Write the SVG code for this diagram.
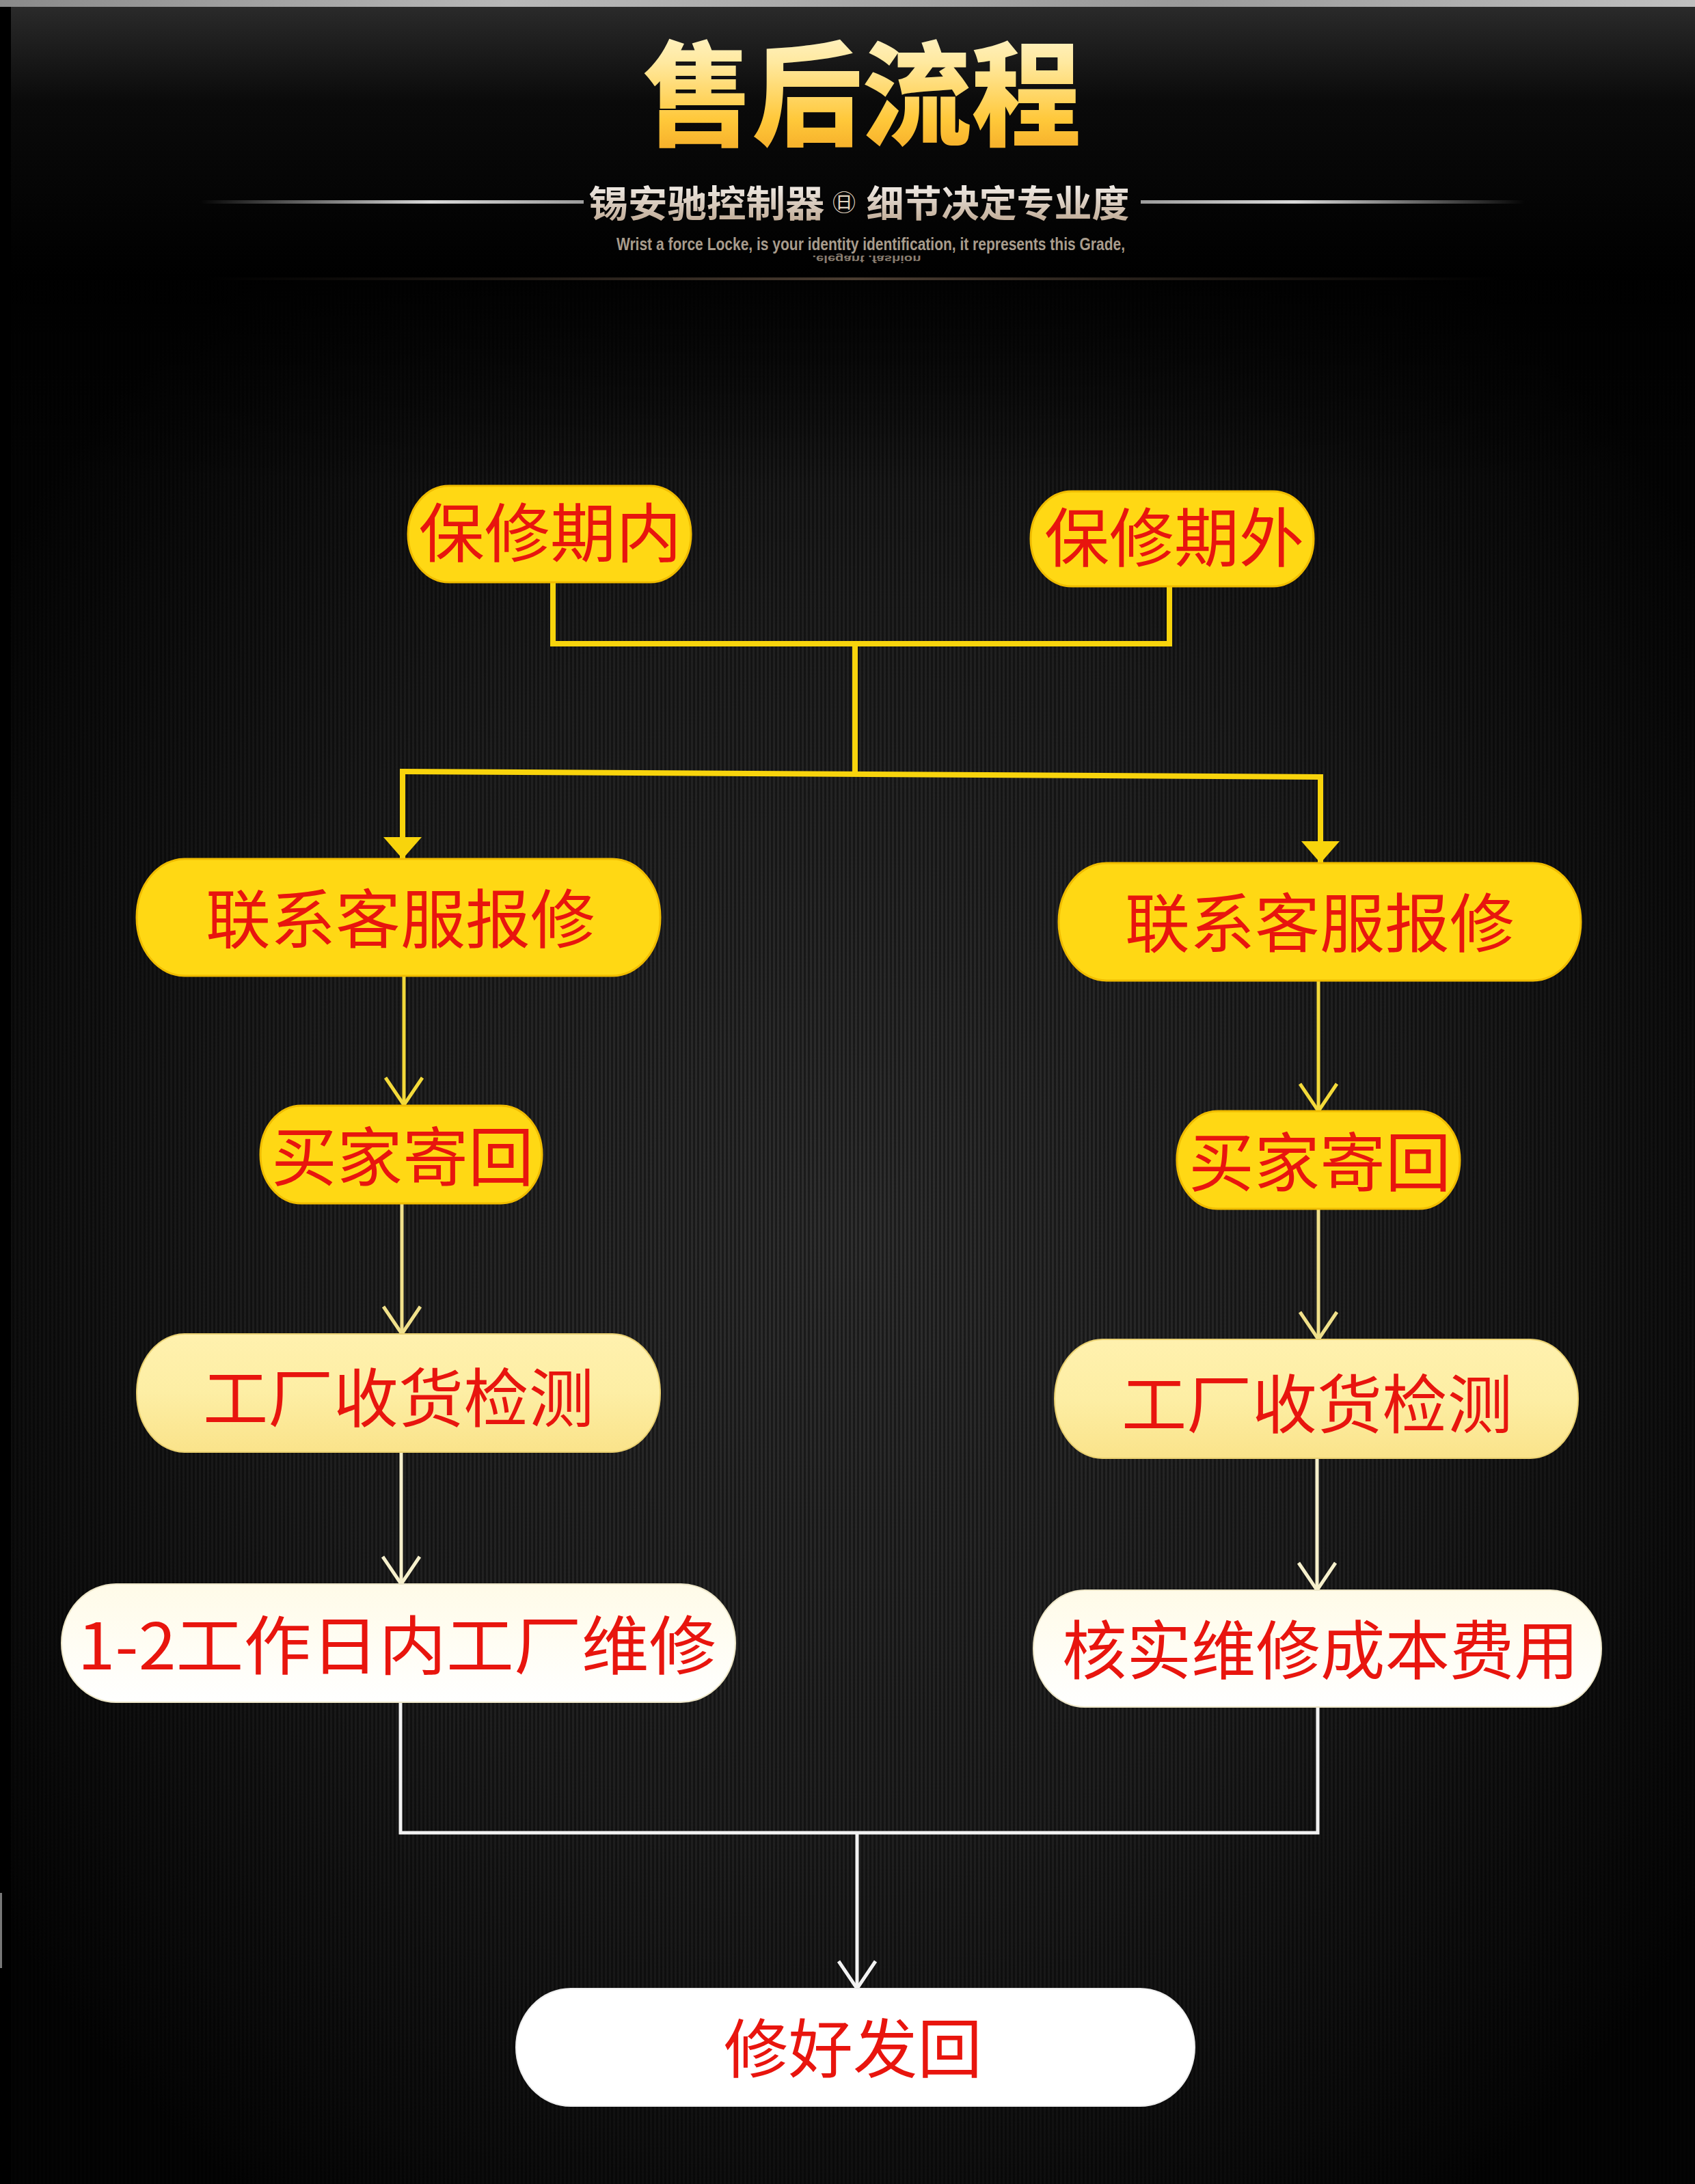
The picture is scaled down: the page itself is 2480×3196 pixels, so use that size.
<svg xmlns="http://www.w3.org/2000/svg" width="2480" height="3196" viewBox="0 0 2480 3196">
<defs>
<style>
.lbl{font-family:"Noto Sans CJK SC","Noto Sans",sans-serif;fill:#E8150E;dominant-baseline:central;text-anchor:middle}
.ny{fill:#FFD814;stroke:#F0BC00;stroke-width:3}
.np{fill:url(#paleY);stroke:#E8CF70;stroke-width:2}
.nc{fill:url(#cream);stroke:#EDE6C8;stroke-width:2}
.nw{fill:#FFFFFF;stroke:#EEEEEE;stroke-width:2}
.thick{fill:none;stroke:#F8D40C;stroke-width:8;stroke-linejoin:miter}
.ln{fill:none;stroke-width:5}
</style>
<linearGradient id="topStrip" x1="0" y1="0" x2="1" y2="0">
<stop offset="0" stop-color="#8a8a8a"/><stop offset="0.3" stop-color="#b8b8b8"/><stop offset="0.7" stop-color="#9a9a9a"/><stop offset="1" stop-color="#c0c0c0"/>
</linearGradient>
<linearGradient id="headBg" x1="0" y1="0" x2="0" y2="1">
<stop offset="0" stop-color="#2a2a2a"/><stop offset="0.35" stop-color="#0a0a0a"/><stop offset="1" stop-color="#000"/>
</linearGradient>
<radialGradient id="mainBg" cx="0.5" cy="0.5" r="0.62">
<stop offset="0" stop-color="#2f2f2f"/><stop offset="0.55" stop-color="#1e1e1e"/><stop offset="1" stop-color="#040404"/>
</radialGradient>
<linearGradient id="mainTop" x1="0" y1="0" x2="0" y2="1">
<stop offset="0" stop-color="#000" stop-opacity="0.85"/><stop offset="1" stop-color="#000" stop-opacity="0"/>
</linearGradient>
<pattern id="stripes" width="6" height="20" patternUnits="userSpaceOnUse">
<rect x="0" y="0" width="3" height="20" fill="#000" fill-opacity="0.4"/>
</pattern>
<linearGradient id="gold" x1="0" y1="0" x2="0" y2="1">
<stop offset="0" stop-color="#FFFBE6"/><stop offset="0.35" stop-color="#FFE9A0"/><stop offset="0.7" stop-color="#FFC83A"/><stop offset="1" stop-color="#F0A020"/>
</linearGradient>
<linearGradient id="silver" x1="0" y1="0" x2="0" y2="1">
<stop offset="0" stop-color="#FFFFFF"/><stop offset="1" stop-color="#B8A088"/>
</linearGradient>
<linearGradient id="lineL" x1="0" y1="0" x2="1" y2="0">
<stop offset="0" stop-color="#fff" stop-opacity="0"/><stop offset="0.6" stop-color="#fff" stop-opacity="0.85"/><stop offset="1" stop-color="#ddd" stop-opacity="0.7"/>
</linearGradient>
<linearGradient id="lineR" x1="0" y1="0" x2="1" y2="0">
<stop offset="0" stop-color="#ddd" stop-opacity="0.7"/><stop offset="0.4" stop-color="#fff" stop-opacity="0.85"/><stop offset="1" stop-color="#fff" stop-opacity="0"/>
</linearGradient>
<linearGradient id="sep" x1="0" y1="0" x2="1" y2="0">
<stop offset="0" stop-color="#3a3028" stop-opacity="0"/><stop offset="0.5" stop-color="#4a3c30"/><stop offset="1" stop-color="#3a3028" stop-opacity="0"/>
</linearGradient>
<linearGradient id="paleY" x1="0" y1="0" x2="0" y2="1">
<stop offset="0" stop-color="#FFF1AE"/><stop offset="0.5" stop-color="#FDEEA4"/><stop offset="1" stop-color="#FAE38A"/>
</linearGradient>
<linearGradient id="cream" x1="0" y1="0" x2="0" y2="1">
<stop offset="0" stop-color="#FFFBE8"/><stop offset="1" stop-color="#FFFFFF"/>
</linearGradient>
<marker id="vY" viewBox="-46 -32 52 64" refX="0" refY="0" markerWidth="52" markerHeight="64" markerUnits="userSpaceOnUse" orient="auto"><path d="M-40,-27 L0,0 L-40,27" fill="none" stroke="#F3DA3A" stroke-width="5"/></marker>
<marker id="vP" viewBox="-46 -32 52 64" refX="0" refY="0" markerWidth="52" markerHeight="64" markerUnits="userSpaceOnUse" orient="auto"><path d="M-40,-27 L0,0 L-40,27" fill="none" stroke="#F0E08A" stroke-width="5"/></marker>
<marker id="vC" viewBox="-46 -32 52 64" refX="0" refY="0" markerWidth="52" markerHeight="64" markerUnits="userSpaceOnUse" orient="auto"><path d="M-40,-27 L0,0 L-40,27" fill="none" stroke="#F6F0CC" stroke-width="5"/></marker>
<marker id="vW" viewBox="-46 -32 52 64" refX="0" refY="0" markerWidth="52" markerHeight="64" markerUnits="userSpaceOnUse" orient="auto"><path d="M-40,-27 L0,0 L-40,27" fill="none" stroke="#F2F2F2" stroke-width="5"/></marker>
<marker id="tri" viewBox="-36 -30 40 60" refX="0" refY="0" markerWidth="40" markerHeight="60" markerUnits="userSpaceOnUse" orient="auto"><path d="M-32,-28 L0,0 L-32,28 Z" fill="#F8D40C"/></marker>
</defs>

<!-- background -->
<rect x="0" y="0" width="2480" height="3196" fill="#000"/>
<rect x="16" y="10" width="2464" height="398" fill="url(#headBg)"/>
<rect x="0" y="0" width="2480" height="10" fill="url(#topStrip)"/>
<rect x="16" y="410" width="2464" height="2786" fill="url(#mainBg)"/>
<rect x="16" y="410" width="2464" height="2786" fill="url(#stripes)"/>
<rect x="16" y="410" width="2464" height="300" fill="url(#mainTop)"/>
<rect x="300" y="406" width="1900" height="4" fill="url(#sep)"/>
<rect x="0" y="2770" width="3" height="110" fill="#777"/>

<!-- header -->
<g id="header">
<text x="1261" y="127" font-family="'Noto Sans CJK SC','Noto Sans',sans-serif" font-weight="900" font-size="166" fill="url(#gold)" text-anchor="middle" dominant-baseline="central" textLength="641" lengthAdjust="spacingAndGlyphs">售后流程</text>
<rect x="293" y="293" width="561" height="5" fill="url(#lineL)"/>
<rect x="1669" y="293" width="562" height="5" fill="url(#lineR)"/>
<text x="1034" y="294" font-family="'Noto Sans CJK SC','Noto Sans',sans-serif" font-weight="bold" font-size="54" fill="url(#silver)" text-anchor="middle" dominant-baseline="central" textLength="345" lengthAdjust="spacingAndGlyphs">锡安驰控制器</text>
<text x="1235" y="294" font-family="'Noto Sans CJK SC','Noto Sans',sans-serif" font-size="34" fill="#E0D4C0" text-anchor="middle" dominant-baseline="central">㊐</text>
<text x="1460" y="294" font-family="'Noto Sans CJK SC','Noto Sans',sans-serif" font-weight="bold" font-size="54" fill="url(#silver)" text-anchor="middle" dominant-baseline="central" textLength="385" lengthAdjust="spacingAndGlyphs">细节决定专业度</text>
<text x="1274" y="357" font-family="'Liberation Sans',Arial,sans-serif" font-weight="bold" font-size="26" fill="#A89C8C" text-anchor="middle" dominant-baseline="central" textLength="744" lengthAdjust="spacingAndGlyphs">Wrist a force Locke, is your identity identification, it represents this Grade,</text>
<text x="1268" y="-379" transform="scale(1,-1)" font-family="'Liberation Sans',Arial,sans-serif" font-weight="bold" font-size="15" fill="#8a7e70" text-anchor="middle" dominant-baseline="central" textLength="159" lengthAdjust="spacingAndGlyphs">.elegant .fashion</text>
</g>

<!-- connectors -->
<g id="connectors">
<path class="thick" d="M809 852 V942 H1711 V858"/>
<path class="thick" d="M1251 942 V1133"/>
<path class="thick" d="M585 1129 L1936 1137"/>
<path class="thick" d="M589 1129 V1257" marker-end="url(#tri)"/>
<path class="thick" d="M1932 1137 V1263" marker-end="url(#tri)"/>

<path class="ln" stroke="#F3DA3A" d="M591 1428 V1617" marker-end="url(#vY)"/>
<path class="ln" stroke="#F3DA3A" d="M1929 1435 V1626" marker-end="url(#vY)"/>
<path class="ln" stroke="#F0E08A" d="M588 1761 V1952" marker-end="url(#vP)"/>
<path class="ln" stroke="#F0E08A" d="M1929 1769 V1960" marker-end="url(#vP)"/>
<path class="ln" stroke="#F6F0CC" d="M587 2125 V2318" marker-end="url(#vC)"/>
<path class="ln" stroke="#F6F0CC" d="M1927 2134 V2327" marker-end="url(#vC)"/>

<path class="ln" stroke="#F2F2F2" d="M586 2491 V2682 H1928 V2498"/>
<path class="ln" stroke="#F2F2F2" d="M1254 2682 V2910" marker-end="url(#vW)"/>
</g>

<!-- nodes -->
<g id="node-warranty-in">
<rect class="ny" x="597" y="711" width="414" height="141" rx="60" ry="70"/>
<text class="lbl" x="805" y="774" font-size="94" textLength="385" lengthAdjust="spacingAndGlyphs">保修期内</text>
</g>
<g id="node-warranty-out">
<rect class="ny" x="1508" y="719" width="414" height="139" rx="60" ry="69"/>
<text class="lbl" x="1718" y="781" font-size="94" textLength="380" lengthAdjust="spacingAndGlyphs">保修期外</text>
</g>
<g id="node-contact-left">
<rect class="ny" x="200" y="1257" width="766" height="171" rx="70" ry="85"/>
<text class="lbl" x="586" y="1339" font-size="94" textLength="570" lengthAdjust="spacingAndGlyphs">联系客服报修</text>
</g>
<g id="node-contact-right">
<rect class="ny" x="1549" y="1263" width="764" height="172" rx="70" ry="86"/>
<text class="lbl" x="1931" y="1345" font-size="94" textLength="570" lengthAdjust="spacingAndGlyphs">联系客服报修</text>
</g>
<g id="node-return-left">
<rect class="ny" x="381" y="1618" width="412" height="143" rx="60" ry="71"/>
<text class="lbl" x="589" y="1687" font-size="94" textLength="384" lengthAdjust="spacingAndGlyphs">买家寄回</text>
</g>
<g id="node-return-right">
<rect class="ny" x="1722" y="1626" width="414" height="143" rx="60" ry="71"/>
<text class="lbl" x="1931" y="1695" font-size="94" textLength="384" lengthAdjust="spacingAndGlyphs">买家寄回</text>
</g>
<g id="node-inspect-left">
<rect class="np" x="200" y="1952" width="766" height="173" rx="70" ry="86"/>
<text class="lbl" x="583" y="2040" font-size="94" textLength="572" lengthAdjust="spacingAndGlyphs">工厂收货检测</text>
</g>
<g id="node-inspect-right">
<rect class="np" x="1543" y="1960" width="766" height="174" rx="70" ry="87"/>
<text class="lbl" x="1927" y="2049" font-size="94" textLength="572" lengthAdjust="spacingAndGlyphs">工厂收货检测</text>
</g>
<g id="node-repair">
<rect class="nc" x="90" y="2318" width="986" height="173" rx="80" ry="86"/>
<text class="lbl" x="581" y="2402" font-size="94" textLength="935" lengthAdjust="spacingAndGlyphs">1-2工作日内工厂维修</text>
</g>
<g id="node-cost">
<rect class="nc" x="1512" y="2327" width="831" height="171" rx="75" ry="85"/>
<text class="lbl" x="1932" y="2409" font-size="94" textLength="756" lengthAdjust="spacingAndGlyphs">核实维修成本费用</text>
</g>
<g id="node-ship-back">
<rect class="nw" x="755" y="2910" width="993" height="172" rx="80" ry="86"/>
<text class="lbl" x="1248" y="2992" font-size="94" textLength="378" lengthAdjust="spacingAndGlyphs">修好发回</text>
</g>
</svg>
